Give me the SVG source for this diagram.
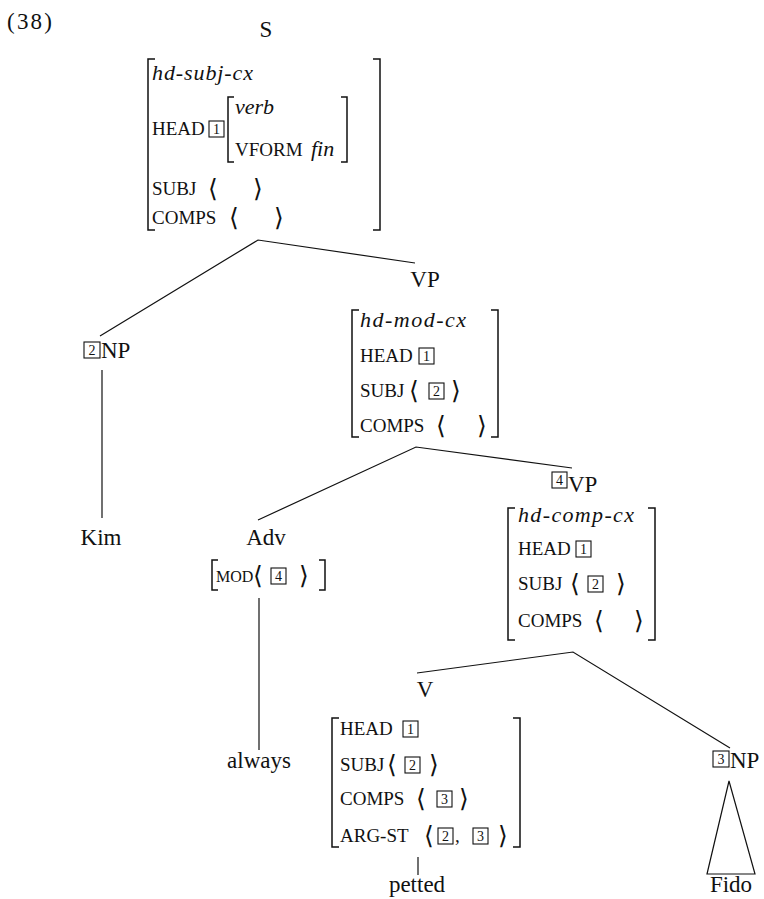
<svg xmlns="http://www.w3.org/2000/svg" width="764" height="899" viewBox="0 0 764 899">
<style>
.t{font-family:"Liberation Serif","DejaVu Serif",serif;fill:#111}
.lab{font-size:23px}
.mid{text-anchor:middle}
.it{font-style:italic;font-size:22px}
.sc{font-size:19px}
.ang{font-family:"DejaVu Serif","Liberation Serif",serif;font-size:25px;fill:#111}
.num{font-family:"Liberation Serif","DejaVu Serif",serif;font-size:14px;text-anchor:middle;fill:#111}
.br{fill:none;stroke:#111;stroke-width:1.5}
.box{fill:none;stroke:#111;stroke-width:1.1}
.edge{fill:none;stroke:#111;stroke-width:1.2}
</style>
<rect width="764" height="899" fill="#fff"/>
<text class="t lab" x="7" y="29" textLength="45">(38)</text>

<g id="edges">
<path class="edge" d="M100,336 L258,240 L415,263"/>
<path class="edge" d="M102,370 V518"/>
<path class="edge" d="M258,520 L416,447 L572,468"/>
<path class="edge" d="M259,598 V750"/>
<path class="edge" d="M417,673 L573,652 L730,748"/>
<path class="edge" d="M418,857 V875"/>
<path class="edge" d="M729,781 L707,874 L755,874 Z"/>
</g>

<g id="node-S">
<text class="t lab mid" x="266" y="37">S</text>
<path class="br" d="M155,59 H148 V230 H155"/>
<path class="br" d="M373,59 H380 V230 H373"/>
<text class="t it" x="152" y="80" textLength="101">hd-subj-cx</text>
<text class="t sc" x="152" y="135">HEAD</text>
<rect class="box" x="209" y="121" width="15" height="16"/><text class="num" x="216.5" y="134">1</text>
<path class="br" d="M234,97 H228 V162 H234"/>
<path class="br" d="M341,97 H347 V162 H341"/>
<text class="t it" x="235" y="114">verb</text>
<text class="t sc" x="235" y="156">VFORM</text>
<text class="t it" x="311" y="156">fin</text>
<text class="t sc" x="152" y="195">SUBJ</text>
<text class="ang" x="208" y="197">⟨</text><text class="ang" x="253" y="197">⟩</text>
<text class="t sc" x="152" y="224">COMPS</text>
<text class="ang" x="229" y="226">⟨</text><text class="ang" x="274" y="226">⟩</text>
</g>

<g id="node-NP2">
<rect class="box" x="84" y="342" width="16" height="16"/><text class="num" x="92" y="355">2</text>
<text class="t lab" x="101" y="358">NP</text>
</g>
<g id="node-Kim"><text class="t lab mid" x="101" y="545">Kim</text></g>

<g id="node-VP">
<text class="t lab mid" x="425" y="287">VP</text>
<path class="br" d="M359,310 H352 V437 H359"/>
<path class="br" d="M491,310 H498 V437 H491"/>
<text class="t it" x="360" y="327" textLength="106">hd-mod-cx</text>
<text class="t sc" x="360" y="362">HEAD</text>
<rect class="box" x="419" y="348" width="15" height="16"/><text class="num" x="426.5" y="361">1</text>
<text class="t sc" x="360" y="397">SUBJ</text>
<text class="ang" x="409" y="399">⟨</text>
<rect class="box" x="429" y="383" width="15" height="16"/><text class="num" x="436.5" y="396">2</text>
<text class="ang" x="451" y="399">⟩</text>
<text class="t sc" x="360" y="432">COMPS</text>
<text class="ang" x="436" y="434">⟨</text><text class="ang" x="477" y="434">⟩</text>
</g>

<g id="node-Adv">
<text class="t lab mid" x="266" y="545">Adv</text>
<path class="br" d="M218,560 H212 V590 H218"/>
<path class="br" d="M319,560 H325 V590 H319"/>
<text class="t" style="font-size:16px" x="216" y="582">MOD</text>
<text class="ang" x="253" y="584">⟨</text>
<rect class="box" x="271" y="568" width="15" height="16"/><text class="num" x="278.5" y="581">4</text>
<text class="ang" x="299" y="584">⟩</text>
</g>
<g id="node-always"><text class="t lab mid" x="259" y="768">always</text></g>

<g id="node-VP4">
<rect class="box" x="552" y="472" width="15" height="16"/><text class="num" x="559.5" y="485">4</text>
<text class="t lab" x="568" y="492">VP</text>
<path class="br" d="M515,508 H508 V640 H515"/>
<path class="br" d="M648,508 H655 V640 H648"/>
<text class="t it" x="518" y="522" textLength="116">hd-comp-cx</text>
<text class="t sc" x="518" y="555">HEAD</text>
<rect class="box" x="576" y="541" width="15" height="16"/><text class="num" x="583.5" y="554">1</text>
<text class="t sc" x="518" y="590">SUBJ</text>
<text class="ang" x="570" y="592">⟨</text>
<rect class="box" x="588" y="576" width="15" height="16"/><text class="num" x="595.5" y="589">2</text>
<text class="ang" x="616" y="592">⟩</text>
<text class="t sc" x="518" y="627">COMPS</text>
<text class="ang" x="594" y="629">⟨</text><text class="ang" x="634" y="629">⟩</text>
</g>

<g id="node-V">
<text class="t lab mid" x="425" y="697">V</text>
<path class="br" d="M339,718 H332 V847 H339"/>
<path class="br" d="M513,718 H520 V847 H513"/>
<text class="t sc" x="340" y="735">HEAD</text>
<rect class="box" x="403" y="721" width="15" height="16"/><text class="num" x="410.5" y="734">1</text>
<text class="t sc" x="340" y="771">SUBJ</text>
<text class="ang" x="387" y="773">⟨</text>
<rect class="box" x="405" y="757" width="15" height="16"/><text class="num" x="412.5" y="770">2</text>
<text class="ang" x="429" y="773">⟩</text>
<text class="t sc" x="340" y="805">COMPS</text>
<text class="ang" x="416" y="807">⟨</text>
<rect class="box" x="437" y="791" width="15" height="16"/><text class="num" x="444.5" y="804">3</text>
<text class="ang" x="459" y="807">⟩</text>
<text class="t sc" x="340" y="842">ARG-ST</text>
<text class="ang" x="424" y="844">⟨</text>
<rect class="box" x="438" y="828" width="15" height="16"/><text class="num" x="445.5" y="841">2</text>
<text class="t sc" x="455" y="842">,</text>
<rect class="box" x="473" y="828" width="15" height="16"/><text class="num" x="480.5" y="841">3</text>
<text class="ang" x="498" y="844">⟩</text>
</g>
<g id="node-petted"><text class="t lab mid" x="417" y="892">petted</text></g>

<g id="node-NP3">
<rect class="box" x="713" y="751" width="16" height="16"/><text class="num" x="721" y="764">3</text>
<text class="t lab" x="730" y="768">NP</text>
</g>
<g id="node-Fido"><text class="t lab mid" x="731" y="892">Fido</text></g>
</svg>
